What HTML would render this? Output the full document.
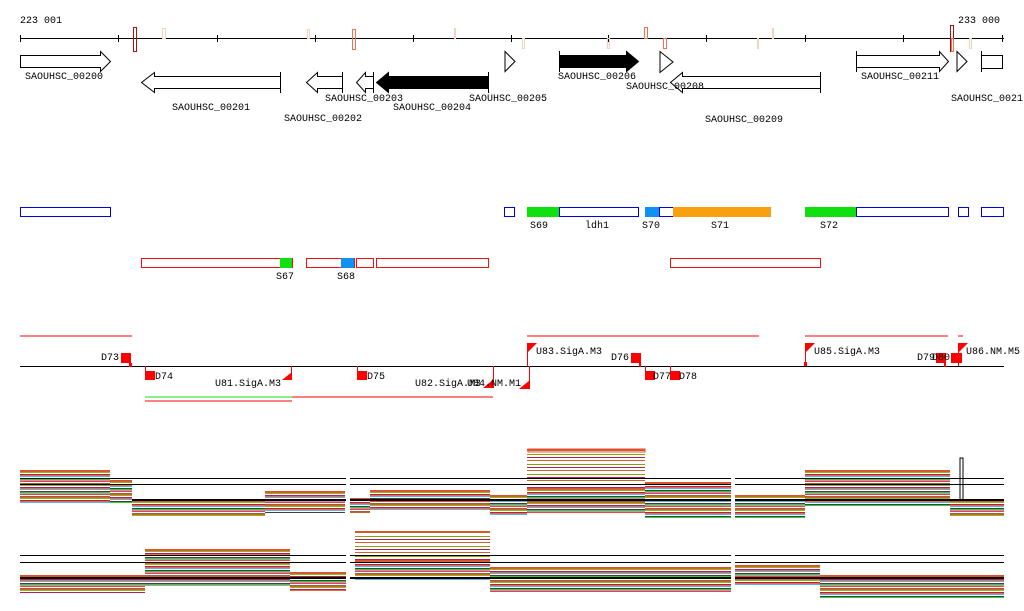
<!DOCTYPE html>
<html><head><meta charset="utf-8"><style>
html,body{margin:0;padding:0;background:#fff;}
#w{position:relative;width:1024px;height:611px;overflow:hidden;}
.b{position:absolute;border-top:1px solid #e05030;background:repeating-linear-gradient(180deg,#c86428 0 1px,#9ab020 1px 2px,transparent 2px 3px,#b02060 3px 4px,#e07040 4px 5px,#60b0e0 5px 6px,transparent 6px 7px,#404040 7px 8px,#30d030 8px 9px,#c090c0 9px 10px,#f04040 10px 11px,transparent 11px 12px,#a06040 12px 13px);}
.s{position:absolute;border-top:1px solid #e05030;background:repeating-linear-gradient(180deg,#c86428 0 1px,transparent 1px 4px,#8aa000 4px 5px,transparent 5px 7px,#b02060 7px 8px,transparent 8px 10px);}
svg{position:absolute;left:0;top:0;}
text{font-family:"Liberation Mono","DejaVu Sans Mono",monospace;font-size:10px;fill:#000;}
</style></head><body><div id="w">
<div class="b" style="left:20px;top:470px;width:90px;height:33px"></div>
<div class="b" style="left:110px;top:480px;width:22px;height:22px"></div>
<div class="b" style="left:132px;top:500px;width:133px;height:15px"></div>
<div class="b" style="left:265px;top:491px;width:80px;height:21px"></div>
<div class="b" style="left:350px;top:498px;width:20px;height:14px"></div>
<div class="b" style="left:370px;top:490px;width:120px;height:20px"></div>
<div class="b" style="left:490px;top:495px;width:37px;height:20px"></div>
<div class="s" style="left:527px;top:449px;width:118px;height:40px"></div>
<div class="b" style="left:527px;top:488px;width:118px;height:24px"></div>
<div class="b" style="left:645px;top:482px;width:87px;height:35px"></div>
<div class="b" style="left:735px;top:495px;width:70px;height:22px"></div>
<div class="b" style="left:805px;top:470px;width:145px;height:35px"></div>
<div class="b" style="left:950px;top:500px;width:54px;height:15px"></div>
<div class="b" style="left:20px;top:575px;width:125px;height:17px"></div>
<div class="b" style="left:145px;top:549px;width:145px;height:36px"></div>
<div class="b" style="left:290px;top:572px;width:56px;height:18px"></div>
<div class="s" style="left:355px;top:531px;width:135px;height:30px"></div>
<div class="b" style="left:355px;top:560px;width:135px;height:20px"></div>
<div class="b" style="left:490px;top:567px;width:241px;height:25px"></div>
<div class="b" style="left:735px;top:565px;width:85px;height:20px"></div>
<div class="b" style="left:820px;top:575px;width:184px;height:22px"></div>
<svg width="1024" height="611" viewBox="0 0 1024 611">
<g stroke="#000" stroke-width="1" shape-rendering="crispEdges">
<line x1="20" y1="478.5" x2="1004" y2="478.5"/><line x1="20" y1="484.5" x2="1004" y2="484.5"/><line x1="132" y1="500" x2="1004" y2="500" stroke-width="2"/>
<line x1="20" y1="555.5" x2="1004" y2="555.5"/><line x1="20" y1="562.5" x2="1004" y2="562.5"/><line x1="20" y1="578" x2="1004" y2="578" stroke-width="2"/>
</g>
<rect x="346" y="440" width="4" height="171" fill="#fff"/><rect x="731" y="440" width="4" height="171" fill="#fff"/>
<rect x="528" y="449" width="117" height="3" fill="none" stroke="#e05030"/>
<rect x="960" y="458" width="3" height="42" fill="none" stroke="#000"/>
<text x="20" y="23">223 001</text><text x="958" y="23">233 000</text>
<g stroke="#000" shape-rendering="crispEdges"><line x1="20" y1="38.5" x2="1004" y2="38.5"/>
<path d="M20.5 35v7M118.5 35v7M217.5 35v7M315.5 35v7M413.5 35v7M511.5 35v7M608.5 35v7M706.5 35v7M805.5 35v7M903.5 35v7M1002.5 35v7"/></g>
<g fill="none" shape-rendering="crispEdges">
<rect x="133.5" y="27.5" width="3" height="24" stroke="#b01010"/>
<rect x="162.5" y="28.5" width="3" height="10" stroke="#f8d0c0"/>
<rect x="307.5" y="29.5" width="2" height="9" stroke="#f8d0c0"/>
<rect x="352.5" y="29.5" width="3" height="20" stroke="#f07050"/>
<rect x="454.5" y="28.5" width="1" height="10" stroke="#f8d0c0"/>
<rect x="522.5" y="38.5" width="2" height="10" stroke="#f8d0c0"/>
<rect x="607.5" y="38.5" width="2" height="10" stroke="#f8d0c0"/>
<rect x="644.5" y="27.5" width="3" height="11" stroke="#f07050"/>
<rect x="663.5" y="38.5" width="3" height="10" stroke="#f07050"/>
<rect x="757.5" y="38.5" width="1" height="10" stroke="#f8d0c0"/>
<rect x="772.5" y="28.5" width="1" height="10" stroke="#f8d0c0"/>
<rect x="950.5" y="25.5" width="3" height="26" stroke="#a01010"/>
<rect x="951.5" y="38.5" width="2" height="13" stroke="#f07050"/>
<rect x="969.5" y="38.5" width="2" height="10" stroke="#f8d0c0"/>
</g>
<g stroke="#000" fill="#fff" stroke-width="1">
<path d="M20.5 55.5h80v-4l10 10-10 10v-4h-80z"/>
<path d="M280.5 76.5h-126v-4l-13 10 13 10v-4h126z"/><path d="M280.5 72v21"/>
<path d="M342.5 76.5h-25v-4l-11 10 11 10v-4h25z"/><path d="M342.5 72v21"/>
<path d="M373.5 76.5h-8v-4l-9 10 9 10v-4h8z"/><path d="M373.5 72v21"/>
<path d="M488.5 76.5h-100v-4l-12 10 12 10v-4h100z" fill="#000"/><path d="M488.5 72v21"/>
<path d="M505 51.5l10 10-10 10z"/>
<path d="M559.5 55.5h67v-4l12 10-12 10v-4h-67z" fill="#000"/><path d="M559.5 51v21"/>
<path d="M660 51.5v21l13-10.5z"/>
<path d="M820.5 76.5h-138v-4l-12 10 12 10v-4h138z"/><path d="M820.5 72v21"/>
<path d="M856.5 55.5h83v-4l9 10-9 10v-4h-83z"/><path d="M856.5 51v21"/>
<path d="M957 51.5l10 10-10 10z"/>
<rect x="981.5" y="55.5" width="21" height="13"/><path d="M981.5 51v21"/>
</g>
<text x="25" y="79">SAOUHSC_00200</text><text x="172" y="110">SAOUHSC_00201</text>
<text x="284" y="121">SAOUHSC_00202</text><text x="325" y="101">SAOUHSC_00203</text>
<text x="393" y="110">SAOUHSC_00204</text><text x="469" y="101">SAOUHSC_00205</text>
<text x="558" y="79">SAOUHSC_00206</text><text x="626" y="89">SAOUHSC_00208</text>
<text x="705" y="122">SAOUHSC_00209</text><text x="861" y="79">SAOUHSC_00211</text>
<text x="951" y="101">SAOUHSC_0021</text>
<g shape-rendering="crispEdges">
<g fill="none" stroke="#0000e0">
<rect x="20.5" y="207.5" width="90" height="9"/><rect x="504.5" y="207.5" width="10" height="9"/>
<rect x="559.5" y="207.5" width="79" height="9"/><rect x="659.5" y="207.5" width="14" height="9"/>
<rect x="856.5" y="207.5" width="92" height="9"/><rect x="958.5" y="207.5" width="10" height="9"/>
<rect x="981.5" y="207.5" width="22" height="9"/></g>
<rect x="527" y="207" width="32" height="10" fill="#10e010"/>
<rect x="645" y="207" width="14" height="10" fill="#1090f0"/>
<rect x="673" y="207" width="98" height="10" fill="#f8a010"/>
<rect x="805" y="207" width="51" height="10" fill="#10e010"/>
<g fill="none" stroke="#f01010">
<rect x="141.5" y="258.5" width="151" height="9"/><rect x="306.5" y="258.5" width="48" height="9"/>
<rect x="356.5" y="258.5" width="17" height="9"/><rect x="376.5" y="258.5" width="112" height="9"/>
<rect x="670.5" y="258.5" width="150" height="9"/></g>
<rect x="280" y="258" width="12" height="10" fill="#10e010"/>
<rect x="341" y="258" width="13" height="10" fill="#1090f0"/>
</g>
<text x="530" y="228">S69</text><text x="585" y="228">ldh1</text><text x="642" y="228">S70</text>
<text x="711" y="228">S71</text><text x="820" y="228">S72</text>
<text x="276" y="279">S67</text><text x="337" y="279">S68</text>
<g shape-rendering="crispEdges">
<g stroke="#f00"><line x1="20" y1="336" x2="132" y2="336"/><line x1="527" y1="336" x2="759" y2="336"/>
<line x1="805" y1="336" x2="948" y2="336"/><line x1="958" y1="336" x2="963" y2="336"/>
<line x1="145" y1="397" x2="292" y2="397" stroke="#10e010"/><line x1="292" y1="397" x2="493" y2="397"/>
<line x1="145" y1="401" x2="292" y2="401"/></g>
<line x1="20" y1="366.5" x2="1004" y2="366.5" stroke="#000"/>
<g fill="#f00">
<rect x="121" y="353" width="10" height="10"/><rect x="129" y="363" width="3" height="4"/>
<rect x="145" y="366" width="1" height="6"/><rect x="145" y="371" width="10" height="9"/>
<rect x="357" y="366" width="1" height="6"/><rect x="357" y="371" width="10" height="9"/>
<rect x="631" y="353" width="10" height="10"/><rect x="639" y="363" width="2" height="4"/>
<rect x="645" y="366" width="1" height="6"/><rect x="645" y="371" width="10" height="9"/>
<rect x="670" y="366" width="1" height="6"/><rect x="670" y="371" width="10" height="9"/>
<rect x="936" y="353" width="10" height="10"/><rect x="944" y="363" width="2" height="4"/>
<rect x="951" y="353" width="11" height="10"/>
<rect x="291" y="366" width="1" height="14"/><rect x="493" y="366" width="1" height="22"/><rect x="529" y="366" width="1" height="22"/>
<rect x="527" y="343" width="1" height="23"/><rect x="805" y="343" width="1" height="23"/><rect x="958" y="343" width="1" height="23"/>
<rect x="804" y="362" width="3" height="4"/>
</g></g>
<g fill="#f00">
<path d="M292 372v8h-10z"/><path d="M494 379v9h-11z"/><path d="M530 380v9h-11z"/>
<path d="M528 343h9l-9 9z"/><path d="M806 343h9l-9 9z"/><path d="M959 343h9l-9 9z"/>
</g>
<text x="101" y="360">D73</text><text x="155" y="379">D74</text><text x="215" y="386">U81.SigA.M3</text>
<text x="367" y="379">D75</text><text x="415" y="386">U82.SigA.M3</text><text x="467" y="386">U84.NM.M1</text>
<text x="536" y="354">U83.SigA.M3</text><text x="611" y="360">D76</text><text x="653" y="379">D77</text><text x="679" y="379">D78</text>
<text x="814" y="354">U85.SigA.M3</text><text x="917" y="360">D79</text><text x="932" y="360">D80</text><text x="966" y="354">U86.NM.M5</text>
</svg></div></body></html>
